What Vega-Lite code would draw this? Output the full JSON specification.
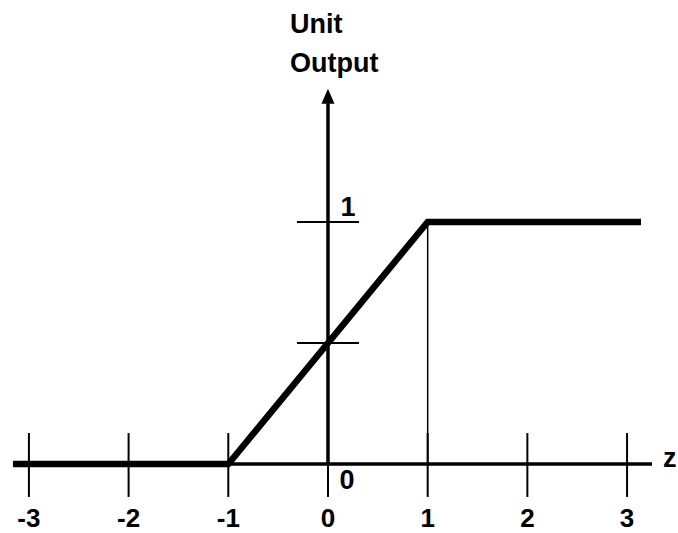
{
  "$schema": "https://vega.github.io/schema/vega-lite/v6.json",
  "width": 678,
  "height": 533,
  "autosize": {"type": "none"},
  "padding": 0,
  "background": "white",
  "config": {"view": {"stroke": null}},
  "datasets": {
    "curve": [
      {"z": -3.16, "out": 0},
      {"z": -1, "out": 0},
      {"z": 1, "out": 1},
      {"z": 3.14, "out": 1}
    ],
    "haxis": [{"z1": -3.16, "z2": 3.25, "out": 0}],
    "vaxis": [{"z": 0, "o1": 0, "o2": 1.49}],
    "arrow": [{"z": 0, "out": 1.519}],
    "xticks": [
      {"z": -3, "label": "-3", "o1": -0.136, "o2": 0.128, "ly": -0.259},
      {"z": -2, "label": "-2", "o1": -0.136, "o2": 0.128, "ly": -0.259},
      {"z": -1, "label": "-1", "o1": -0.136, "o2": 0.128, "ly": -0.259},
      {"z": 0, "label": "0", "o1": -0.136, "o2": 0.128, "ly": -0.259},
      {"z": 1, "label": "1", "o1": -0.136, "o2": 0.128, "ly": -0.259},
      {"z": 2, "label": "2", "o1": -0.136, "o2": 0.128, "ly": -0.259},
      {"z": 3, "label": "3", "o1": -0.136, "o2": 0.128, "ly": -0.259}
    ],
    "yticks": [
      {"z1": -0.311, "z2": 0.311, "out": 0.5},
      {"z1": -0.311, "z2": 0.311, "out": 1}
    ],
    "guide": [{"z": 1, "o1": 0, "o2": 1}],
    "centerlabels": [
      {"z": 0.19, "out": -0.103, "label": "0"},
      {"z": 0.2, "out": 1.026, "label": "1"}
    ],
    "leftlabels": [
      {"z": 3.36, "out": -0.012, "label": "z"},
      {"z": -0.38, "out": 1.78, "label": "Unit"},
      {"z": -0.38, "out": 1.621, "label": "Output"}
    ]
  },
  "layer": [
    {
      "data": {"name": "haxis"},
      "mark": {"type": "rule", "color": "black", "strokeWidth": 3.5},
      "encoding": {
        "x": {"field": "z1", "type": "quantitative", "scale": {"domain": [-3.29, 3.511], "nice": false, "zero": false}, "axis": null},
        "x2": {"field": "z2"},
        "y": {"field": "out", "type": "quantitative", "scale": {"domain": [-0.285, 1.917], "nice": false, "zero": false}, "axis": null}
      }
    },
    {
      "data": {"name": "vaxis"},
      "mark": {"type": "rule", "color": "black", "strokeWidth": 3.5},
      "encoding": {
        "x": {"field": "z", "type": "quantitative"},
        "y": {"field": "o1", "type": "quantitative"},
        "y2": {"field": "o2"}
      }
    },
    {
      "data": {"name": "arrow"},
      "mark": {"type": "point", "shape": "M0,-1L0.87,1L-0.87,1Z", "size": 225, "filled": true, "color": "black", "opacity": 1},
      "encoding": {
        "x": {"field": "z", "type": "quantitative"},
        "y": {"field": "out", "type": "quantitative"}
      }
    },
    {
      "data": {"name": "xticks"},
      "mark": {"type": "rule", "color": "black", "strokeWidth": 2},
      "encoding": {
        "x": {"field": "z", "type": "quantitative"},
        "y": {"field": "o1", "type": "quantitative"},
        "y2": {"field": "o2"}
      }
    },
    {
      "data": {"name": "yticks"},
      "mark": {"type": "rule", "color": "black", "strokeWidth": 2},
      "encoding": {
        "x": {"field": "z1", "type": "quantitative"},
        "x2": {"field": "z2"},
        "y": {"field": "out", "type": "quantitative"}
      }
    },
    {
      "data": {"name": "guide"},
      "mark": {"type": "rule", "color": "black", "strokeWidth": 1.5},
      "encoding": {
        "x": {"field": "z", "type": "quantitative"},
        "y": {"field": "o1", "type": "quantitative"},
        "y2": {"field": "o2"}
      }
    },
    {
      "data": {"name": "curve"},
      "mark": {"type": "line", "color": "black", "strokeWidth": 6.5, "strokeJoin": "miter", "strokeCap": "butt"},
      "encoding": {
        "x": {"field": "z", "type": "quantitative"},
        "y": {"field": "out", "type": "quantitative"},
        "order": {"field": "z", "type": "quantitative"}
      }
    },
    {
      "data": {"name": "xticks"},
      "mark": {"type": "text", "font": "Liberation Sans", "fontWeight": "bold", "fontSize": 26, "align": "center", "baseline": "alphabetic", "color": "black"},
      "encoding": {
        "x": {"field": "z", "type": "quantitative"},
        "y": {"field": "ly", "type": "quantitative"},
        "text": {"field": "label"}
      }
    },
    {
      "data": {"name": "centerlabels"},
      "mark": {"type": "text", "font": "Liberation Sans", "fontWeight": "bold", "fontSize": 27, "align": "center", "baseline": "alphabetic", "color": "black"},
      "encoding": {
        "x": {"field": "z", "type": "quantitative"},
        "y": {"field": "out", "type": "quantitative"},
        "text": {"field": "label"}
      }
    },
    {
      "data": {"name": "leftlabels"},
      "mark": {"type": "text", "font": "Liberation Sans", "fontWeight": "bold", "fontSize": 27, "align": "left", "baseline": "alphabetic", "color": "black"},
      "encoding": {
        "x": {"field": "z", "type": "quantitative"},
        "y": {"field": "out", "type": "quantitative"},
        "text": {"field": "label"}
      }
    }
  ]
}
